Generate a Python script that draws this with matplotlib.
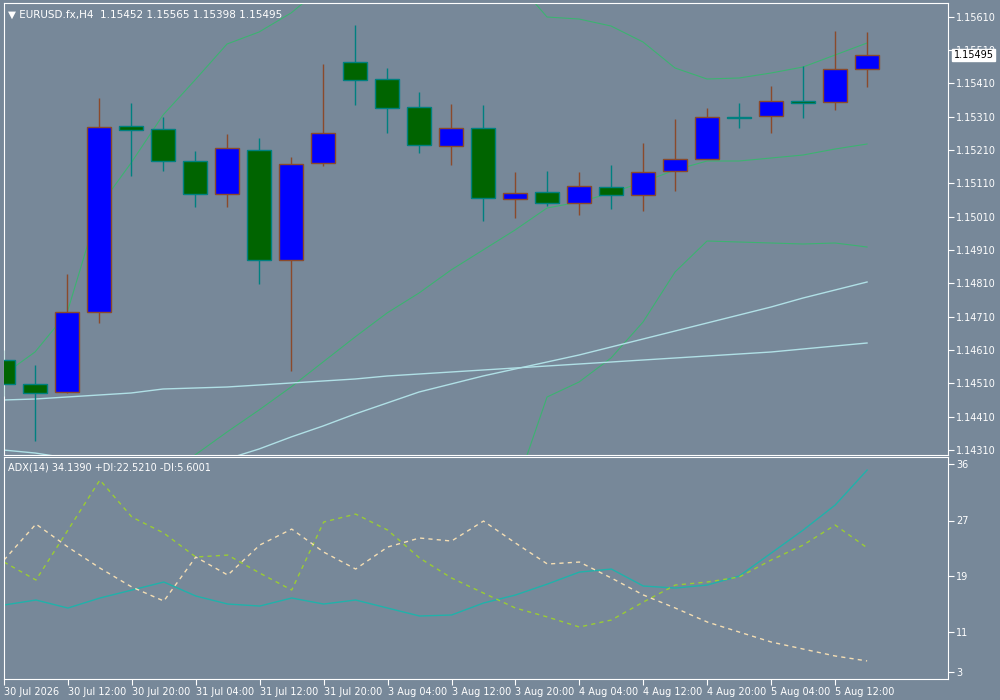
import matplotlib
matplotlib.use('Agg')
import matplotlib.pyplot as plt
import numpy as np

# H4 candles, 30 Jul 04:00 .. 5 Aug 12:00
opens  = [1.14580, 1.14507, 1.14483, 1.14723, 1.15281, 1.15272, 1.15176, 1.15077, 1.15209, 1.14879,
          1.15170, 1.15473, 1.15422, 1.15338, 1.15222, 1.15275, 1.15062, 1.15083, 1.15050, 1.15098,
          1.15074, 1.15146, 1.15182, 1.15308, 1.15311, 1.15356, 1.15353, 1.15452]
highs  = [1.14610, 1.14565, 1.14838, 1.15365, 1.15351, 1.15310, 1.15207, 1.15258, 1.15246, 1.15189,
          1.15468, 1.15585, 1.15456, 1.15384, 1.15348, 1.15345, 1.15144, 1.15147, 1.15144, 1.15165,
          1.15231, 1.15303, 1.15336, 1.15351, 1.15402, 1.15462, 1.15567, 1.15565]
lows   = [1.14472, 1.14338, 1.14480, 1.14692, 1.15133, 1.15147, 1.15040, 1.15040, 1.14809, 1.14548,
          1.15163, 1.15346, 1.15262, 1.15201, 1.15166, 1.14998, 1.15007, 1.15043, 1.15016, 1.15034,
          1.15028, 1.15088, 1.15182, 1.15277, 1.15262, 1.15307, 1.15330, 1.15398]
closes = [1.14508, 1.14480, 1.14723, 1.15278, 1.15269, 1.15176, 1.15077, 1.15215, 1.14879, 1.15167,
          1.15260, 1.15419, 1.15335, 1.15224, 1.15275, 1.15065, 1.15080, 1.15050, 1.15101, 1.15074,
          1.15143, 1.15182, 1.15308, 1.15307, 1.15356, 1.15350, 1.15452, 1.15495]

band_upper = [1.14535, 1.14604, 1.14721, 1.15039, 1.15171, 1.15315, 1.15420, 1.15528, 1.15564, 1.15621,
              1.15700, 1.15780, 1.15830, 1.15850, 1.15840, 1.15800, 1.15720, 1.15609, 1.15603, 1.15582,
              1.15534, 1.15456, 1.15423, 1.15426, 1.15441, 1.15459, 1.15495, 1.15531]
band_mid = [1.13950, 1.13995, 1.14040, 1.14100, 1.14160, 1.14226, 1.14295, 1.14364, 1.14430, 1.14499,
            1.14574, 1.14649, 1.14721, 1.14781, 1.14850, 1.14910, 1.14970, 1.15036, 1.15054, 1.15081,
            1.15114, 1.15150, 1.15177, 1.15177, 1.15186, 1.15195, 1.15213, 1.15228]
band_lower = [1.14190, 1.14469, 1.14514, 1.14586, 1.14694, 1.14844, 1.14937, 1.14934, 1.14931, 1.14928,
              1.14931, 1.14919]  # from bar 16 on
ma_slow = [1.14460, 1.14463, 1.14469, 1.14475, 1.14481, 1.14493, 1.14496, 1.14499, 1.14505, 1.14511,
           1.14517, 1.14523, 1.14532, 1.14538, 1.14544, 1.14550, 1.14556, 1.14562, 1.14568, 1.14574,
           1.14580, 1.14586, 1.14592, 1.14598, 1.14604, 1.14613, 1.14622, 1.14631]
ma_fast = [1.14310, 1.14301, 1.14286, 1.14271, 1.14262, 1.14259, 1.14265, 1.14283, 1.14313, 1.14349,
           1.14382, 1.14418, 1.14451, 1.14484, 1.14508, 1.14532, 1.14553, 1.14574, 1.14595, 1.14619,
           1.14643, 1.14667, 1.14691, 1.14715, 1.14739, 1.14766, 1.14790, 1.14814]

adx = [13.96, 14.71, 13.51, 15.01, 16.20, 17.40, 15.31, 14.11, 13.81, 15.01, 14.11, 14.71, 13.51, 12.32,
       12.47, 14.26, 15.46, 17.10, 18.89, 19.34, 16.80, 16.50, 16.95, 18.30, 21.73, 25.17, 28.91, 34.14]
plus_di = [20.39, 17.70, 25.17, 32.65, 27.11, 24.72, 21.14, 21.43, 18.74, 16.20, 26.37, 27.56, 25.17, 20.99,
           18.00, 15.75, 13.51, 12.17, 10.67, 11.72, 14.41, 16.95, 17.40, 18.15, 20.69, 22.93, 25.92, 22.52]
minus_di = [20.69, 26.07, 22.63, 19.49, 16.65, 14.56, 21.14, 18.44, 22.93, 25.32, 21.88, 19.34, 22.63, 23.98,
            23.53, 26.52, 23.23, 20.09, 20.39, 18.00, 15.46, 13.51, 11.42, 9.92, 8.43, 7.38, 6.34, 5.60]

time_labels = ['30 Jul 2026', '30 Jul 12:00', '30 Jul 20:00', '31 Jul 04:00', '31 Jul 12:00',
               '31 Jul 20:00', '3 Aug 04:00', '3 Aug 12:00', '3 Aug 20:00', '4 Aug 04:00',
               '4 Aug 12:00', '4 Aug 20:00', '5 Aug 04:00', '5 Aug 12:00']
price_ticks = [1.15610, 1.15510, 1.15410, 1.15310, 1.15210, 1.15110, 1.15010,
               1.14910, 1.14810, 1.14710, 1.14610, 1.14510, 1.14410, 1.14310]
adx_ticks = [35.0, 26.6, 18.3, 9.9, 4.0]
adx_tick_labels = ['36', '27', '19', '11', '3']

BG = '#778899'
FG = 'white'
n = len(opens)
x = np.arange(n)

fig = plt.figure(figsize=(10, 7), dpi=100, facecolor=BG)
ax = fig.add_axes([0.004, 0.35, 0.944, 0.6457], facecolor=BG)
ax2 = fig.add_axes([0.004, 0.03, 0.944, 0.317], facecolor=BG)

for a in (ax, ax2):
    for s in a.spines.values():
        s.set_color(FG)
    a.yaxis.tick_right()
    a.tick_params(axis='y', colors=FG, labelsize=7, length=4, pad=2)
    a.set_xlim(0.03, 29.53)

# indicator lines
ax.plot(x, band_upper, color='#3CB371', lw=0.8)
ax.plot(x, band_mid, color='#3CB371', lw=0.8)
ax.plot(x[16:], band_lower, color='#3CB371', lw=0.8)
ax.plot(x, ma_slow, color='#B0E0E6', lw=1)
ax.plot(x, ma_fast, color='#B0E0E6', lw=1)

# candles
for i in range(n):
    o, h, l, c = opens[i], highs[i], lows[i], closes[i]
    bull = c >= o
    edge = '#8B4A2B' if bull else '#008080'
    fill = '#0000FF' if bull else '#006400'
    ax.vlines(x[i], l, h, color=edge, lw=1, zorder=3)
    body = max(abs(c - o), 0.00001)
    ax.bar(x[i], body, bottom=min(o, c), width=0.75, color=fill, edgecolor=edge, lw=1, zorder=4)

ax.set_ylim(1.14295, 1.15651)
ax.set_yticks(price_ticks)
ax.set_yticklabels([f'{t:.5f}' for t in price_ticks])
ax.set_xticks([])
ax.text(0.004, 0.985, '\u25BC EURUSD.fx,H4  1.15452 1.15565 1.15398 1.15495', transform=ax.transAxes,
        color=FG, fontsize=7.5, va='top', ha='left')
ax.annotate(f'{closes[-1]:.5f}', xy=(1.0, closes[-1]), xycoords=('axes fraction', 'data'),
            xytext=(4, 0), textcoords='offset points', va='center', ha='left', fontsize=7,
            color='black', bbox=dict(boxstyle='square,pad=0.15', fc='white', ec='white'))

# ADX panel
ax2.plot(x, adx, color='#20B2AA', lw=1)
ax2.plot(x, plus_di, color='#9ACD32', lw=1, ls=(0, (3, 3)))
ax2.plot(x, minus_di, color='#F5DEB3', lw=1, ls=(0, (3, 3)))
ax2.set_ylim(2.9, 36.08)
ax2.set_yticks(adx_ticks)
ax2.set_yticklabels(adx_tick_labels)
ax2.set_xticks(x[::2])
ax2.set_xticklabels(time_labels, ha='left')
ax2.tick_params(axis='x', colors=FG, labelsize=7, length=4, pad=2)
ax2.text(0.004, 0.975, 'ADX(14) 34.1390 +DI:22.5210 -DI:5.6001', transform=ax2.transAxes,
         color=FG, fontsize=7, va='top', ha='left')

fig.savefig('out.png', dpi=100, facecolor=BG)
